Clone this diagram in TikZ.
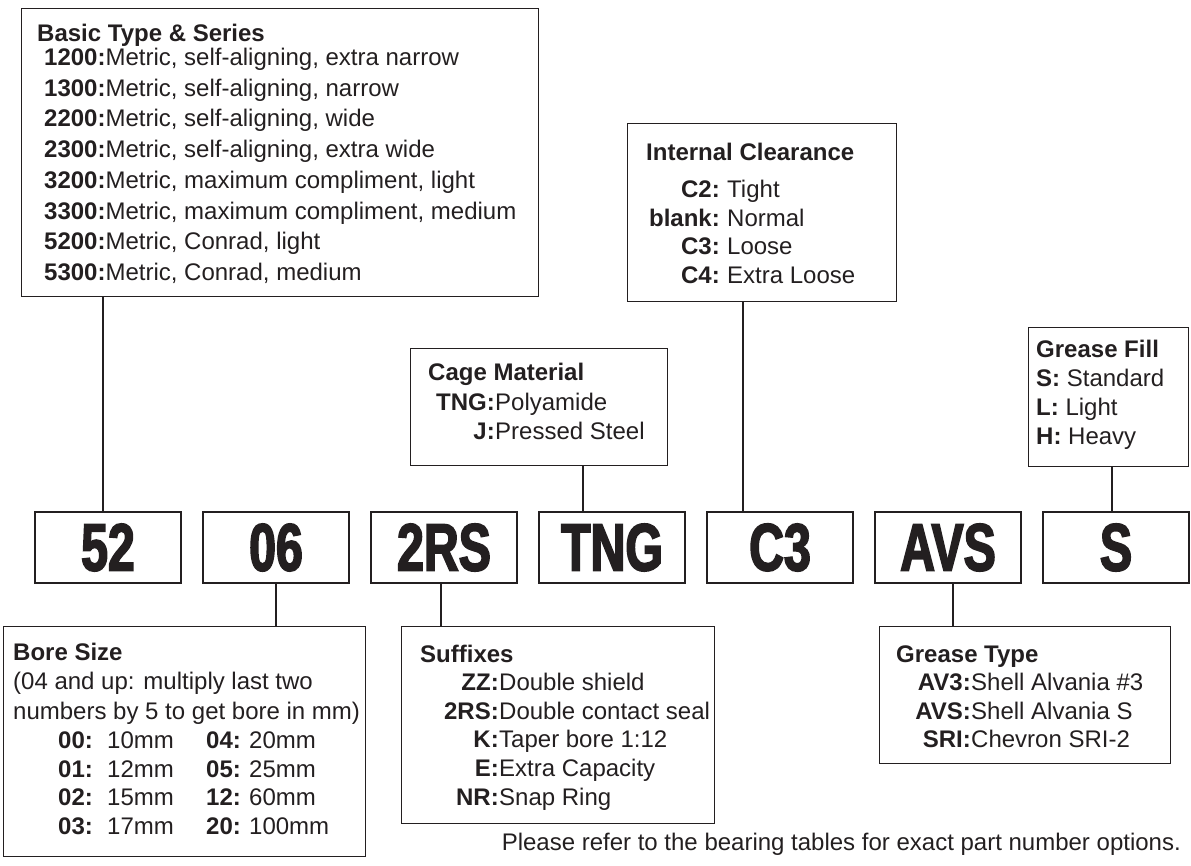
\documentclass[tikz,border=0pt]{standalone}
\usepackage{fontspec}
\setmainfont{Liberation Sans}
\newfontfamily\codefnt{Liberation Sans}[FakeStretch=0.72,BoldFeatures={FakeBold=2.5}]
\definecolor{ink}{rgb}{0.137,0.122,0.125}
\newcommand{\txt}{\fontsize{24}{29}\selectfont}
\tikzset{
  infobox/.style={draw=ink, line width=1.2pt, inner sep=0pt, anchor=north west},
  codebox/.style={draw=ink, line width=2.8pt, minimum width=146pt, minimum height=71pt, inner sep=0pt, text=ink, font={\codefnt\bfseries\fontsize{67}{67}\selectfont}},
  ttl/.style={anchor=base west, inner sep=0pt, text=ink, font={\txt\bfseries}},
  item/.style={anchor=base west, inner sep=0pt, text=ink, font=\txt},
  key/.style={anchor=base east, inner sep=0pt, text=ink, font={\txt\bfseries}},
  val/.style={anchor=base west, inner sep=0pt, text=ink, font=\txt},
  link/.style={draw=ink, line width=1.2pt}
}

\begin{document}
\begin{tikzpicture}[x=1pt,y=-1pt]
\useasboundingbox (0,0) rectangle (1191,866);
% part number
\foreach \c/\n [count=\i from 0] in {52/c52,06/c06,2RS/c2rs,TNG/ctng,C3/cc3,AVS/cavs,S/cs}
  \node[codebox] (\n) at (108+168*\i,547.5) {\c};

% basic type and series
\node[infobox, minimum width=517pt, minimum height=288pt] (basic) at (21,8) {};
\node[ttl] (basic-t) at (37,41.5) {Basic Type \& Series};
\foreach \k/\v [count=\i from 0] in {1200/{Metric, self-aligning, extra narrow},
    1300/{Metric, self-aligning, narrow},2200/{Metric, self-aligning, wide},
    2300/{Metric, self-aligning, extra wide},3200/{Metric, maximum compliment, light},
    3300/{Metric, maximum compliment, medium},5200/{Metric, Conrad, light},
    5300/{Metric, Conrad, medium}}
  \node[item] (basic-\i) at (44,65.5+30.75*\i) {\textbf{\k:}\v};

% internal clearance
\node[infobox, minimum width=269pt, minimum height=178pt] (clr) at (627,123) {};
\node[ttl] (clr-t) at (646,160.5) {Internal Clearance};
\foreach \k/\v [count=\i from 0] in {C2/Tight,blank/Normal,C3/Loose,C4/{Extra Loose}} {
  \node[key] (clr-k\i) at (720,198+28.5*\i) {\k:};
  \node[val] (clr-v\i) at (727,198+28.5*\i) {\v};
}

% cage material
\node[infobox, minimum width=257pt, minimum height=117pt] (cage) at (410,348) {};
\node[ttl] (cage-t) at (428,380.5) {Cage Material};
\foreach \k/\v [count=\i from 0] in {TNG/Polyamide,J/{Pressed Steel}} {
  \node[key] (cage-k\i) at (495,410.5+29*\i) {\k:};
  \node[val] (cage-v\i) at (495,410.5+29*\i) {\v};
}

% grease fill
\node[infobox, minimum width=160pt, minimum height=139pt] (gfill) at (1028,327) {};
\node[ttl] (gfill-t) at (1036,357.5) {Grease Fill};
\foreach \k/\v [count=\i from 0] in {S/Standard,L/Light,H/Heavy}
  \node[item] (gfill-\i) at (1036,386.5+29*\i) {\textbf{\k:} \v};

% bore size
\node[infobox, minimum width=362pt, minimum height=230pt] (bore) at (3,626) {};
\node[ttl] (bore-t) at (13,660.5) {Bore Size};
\node[item] (bore-a) at (13,689.5) {(04 and up: multiply last two};
\node[item] (bore-b) at (13,719) {numbers by 5 to get bore in mm)};
\foreach \ka/\va/\kb/\vb [count=\i from 0] in {00/10mm/04/20mm,01/12mm/05/25mm,02/15mm/12/60mm,03/17mm/20/100mm} {
  \node[item, font={\txt\bfseries}] (bore-k\i) at (58,748.5+28.7*\i) {\ka:};
  \node[item] (bore-v\i) at (107,748.5+28.7*\i) {\va};
  \node[item, font={\txt\bfseries}] (bore-kk\i) at (206,748.5+28.7*\i) {\kb:};
  \node[item] (bore-vv\i) at (249,748.5+28.7*\i) {\vb};
}

% suffixes
\node[infobox, minimum width=313pt, minimum height=197pt] (sfx) at (401,626) {};
\node[ttl] (sfx-t) at (420,662.5) {Suffixes};
\foreach \k/\v [count=\i from 0] in {ZZ/{Double shield},2RS/{Double contact seal},K/{Taper bore 1:12},E/{Extra Capacity},NR/{Snap Ring}} {
  \node[key] (sfx-k\i) at (499,690.5+28.7*\i) {\k:};
  \node[val] (sfx-v\i) at (499,690.5+28.7*\i) {\v};
}

% grease type
\node[infobox, minimum width=291pt, minimum height=137pt] (gtype) at (879,626) {};
\node[ttl] (gtype-t) at (896,662.5) {Grease Type};
\foreach \k/\v [count=\i from 0] in {AV3/{Shell Alvania \#3},AVS/{Shell Alvania S},SRI/{Chevron SRI-2}} {
  \node[key] (gtype-k\i) at (971,690.5+28.7*\i) {\k:};
  \node[val] (gtype-v\i) at (971,690.5+28.7*\i) {\v};
}

\node[item, anchor=base east] (note) at (1181,850.5) {Please refer to the bearing tables for exact part number options.};

% connectors
\draw[link] ([xshift=-5pt]c52.north) -- ([xshift=-5pt]c52.north |- basic.south);
\draw[link] (c06.south) -- (c06.south |- bore.north);
\draw[link] ([xshift=-3pt]c2rs.south) -- ([xshift=-3pt]c2rs.south |- sfx.north);
\draw[link] ([xshift=-29pt]ctng.north) -- ([xshift=-29pt]ctng.north |- cage.south);
\draw[link] ([xshift=-37pt]cc3.north) -- ([xshift=-37pt]cc3.north |- clr.south);
\draw[link] ([xshift=5pt]cavs.south) -- ([xshift=5pt]cavs.south |- gtype.north);
\draw[link] ([xshift=-4pt]cs.north) -- ([xshift=-4pt]cs.north |- gfill.south);
\end{tikzpicture}
\end{document}
